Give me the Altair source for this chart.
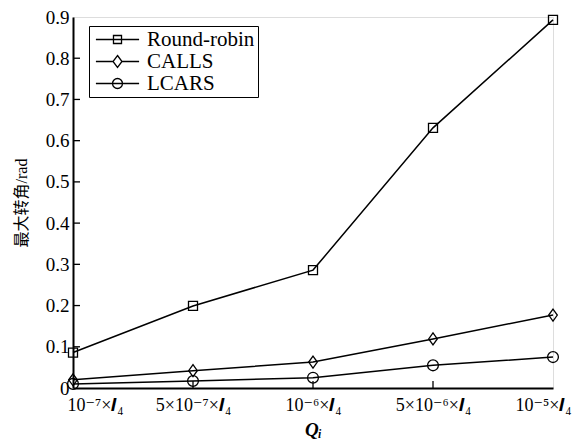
import altair as alt
import pandas as pd

cats = ["10⁻⁷×𝑰₄", "5×10⁻⁷×𝑰₄", "10⁻⁶×𝑰₄", "5×10⁻⁶×𝑰₄", "10⁻⁵×𝑰₄"]
series = ["Round-robin", "CALLS", "LCARS"]
round_robin = [0.086, 0.199, 0.286, 0.631, 0.893]
calls = [0.020, 0.042, 0.063, 0.119, 0.177]
lcars = [0.010, 0.017, 0.025, 0.055, 0.075]
y_ticks = [0.1, 0.2, 0.3, 0.4, 0.5, 0.6, 0.7, 0.8]
x_inner = cats[1:4]

rows = []
for name, vals in zip(series, [round_robin, calls, lcars]):
    for c, v in zip(cats, vals):
        rows.append({"cat": c, "series": name, "v": v})
df = pd.DataFrame(rows)

SERIF = "Liberation Serif, DejaVu Serif, Noto Sans CJK SC"

# point marker paths
p_sq = "M-0.75,-0.75H0.75V0.75H-0.75Z"
p_di = "M0,-1L0.72,0L0,1L-0.72,0Z"
p_ci = "M-0.9,0A0.9,0.9 0 1,0 0.9,0A0.9,0.9 0 1,0 -0.9,0Z"
# legend symbol paths (line + marker)
l_sq = "M-3.6,0H3.6M-0.67,-0.67H0.67V0.67H-0.67Z"
l_di = "M-3.6,0H-0.75M0.75,0H3.6M0,-1L0.75,0L0,1L-0.75,0Z"
l_ci = "M-3.6,0H3.6M-0.83,0A0.83,0.83 0 1,0 0.83,0A0.83,0.83 0 1,0 -0.83,0Z"

xscale = alt.Scale(domain=cats, type="point", padding=0)
yscale = alt.Scale(domain=[0, 0.9], nice=False)

x_enc = alt.X("cat:N", scale=xscale, sort=cats,
              axis=alt.Axis(title="Qᵢ", labelAngle=0, ticks=False,
                            labelFont=SERIF, labelFontSize=18, labelColor="black",
                            labelPadding=8, titleFont=SERIF, titleFontSize=19,
                            titleFontStyle="italic", titleFontWeight="bold",
                            titleColor="black", titlePadding=6,
                            domainColor="black", domainWidth=2,
                            labelOffset={"condition": [
                                {"test": f"datum.value === '{cats[0]}'", "value": 22},
                                {"test": f"datum.value === '{cats[-1]}'", "value": -10}],
                                "value": 0}))
y_enc = alt.Y("v:Q", scale=yscale,
              axis=alt.Axis(title="最大转角/rad", values=[0] + y_ticks + [0.9], ticks=False,
                            labelExpr="datum.value == 0 ? '0' : format(datum.value, '.1f')",
                            labelFont=SERIF, labelFontSize=19, labelColor="black",
                            labelPadding=4, titleFont=SERIF, titleFontSize=16,
                            titleFontWeight="normal", titleColor="black", titlePadding=16,
                            domainColor="black", domainWidth=2, grid=False))

lines = alt.Chart(df).mark_line(color="black", strokeWidth=1.5).encode(
    x=x_enc, y=y_enc, detail="series:N")

points = alt.Chart(df).mark_point(filled=False, stroke="black", strokeWidth=1.3,
                                  size=144, opacity=1).encode(
    x=alt.X("cat:N", scale=xscale, sort=cats),
    y=alt.Y("v:Q", scale=yscale),
    shape=alt.Shape("series:N", sort=series,
                    scale=alt.Scale(domain=series, range=[p_sq, p_di, p_ci]),
                    legend=None))

legend_layer = alt.Chart(df).mark_point(filled=False, stroke="black", strokeWidth=1.3,
                                        size=144, opacity=0).encode(
    x=alt.X("cat:N", scale=xscale, sort=cats),
    y=alt.Y("v:Q", scale=yscale),
    shape=alt.Shape("series:N", sort=series,
                    scale=alt.Scale(domain=series, range=[l_sq, l_di, l_ci]),
                    legend=alt.Legend(
                        title=None, orient="none", legendX=16, legendY=9,
                        labelFont=SERIF, labelFontSize=21, labelColor="black",
                        symbolSize=144, symbolStrokeColor="black", symbolStrokeWidth=1.3,
                        symbolFillColor="transparent", symbolOpacity=1,
                        symbolOffset=15, labelOffset=19,
                        rowPadding=0, padding=3, strokeColor="black")))

ytick_df = pd.DataFrame({"v": y_ticks})
yticks = alt.Chart(ytick_df).mark_rule(color="black", strokeWidth=1.3).encode(
    y=alt.Y("v:Q", scale=yscale), x=alt.value(0), x2=alt.value(7))

xtick_df = pd.DataFrame({"cat": x_inner})
xticks = alt.Chart(xtick_df).mark_rule(color="black", strokeWidth=1.3).encode(
    x=alt.X("cat:N", scale=xscale, sort=cats), y=alt.value(371), y2=alt.value(364))

chart = alt.layer(lines, yticks, xticks, points, legend_layer).resolve_scale(
    shape="independent"
).properties(
    width=480, height=371,
    padding={"left": 65, "top": 9, "right": 20, "bottom": 57},
    autosize="none",
).configure_view(stroke="black", strokeWidth=2).configure_legend(
    strokeWidth=2
).configure(background="white")

chart.save("out.html", embed_options={"renderer": "svg", "actions": False})
